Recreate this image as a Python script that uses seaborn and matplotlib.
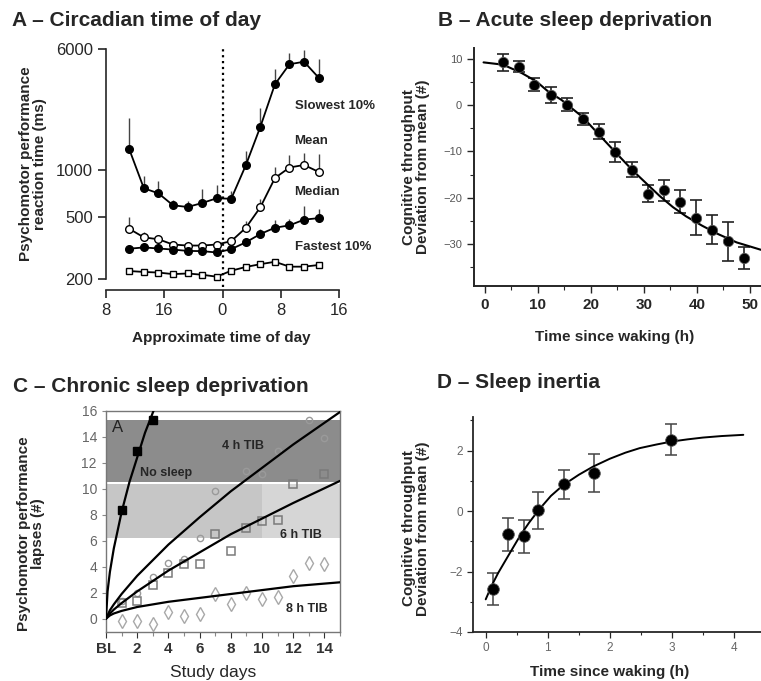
import matplotlib
matplotlib.use('Agg')
import matplotlib.pyplot as plt
import seaborn as sns
import pandas as pd
from matplotlib.ticker import MultipleLocator, NullLocator, FixedLocator

# Panel A - circadian time of day (hours relative to midnight)
a_hours = [-12.8, -10.8, -8.8, -6.8, -4.8, -2.8, -0.8, 1.2, 3.2, 5.2, 7.2, 9.2, 11.2, 13.2]
a_slowest = [1360, 765, 710, 595, 580, 615, 660, 655, 1075, 1900, 3560, 4790, 4970, 3930]
a_slowest_err = [800, 155, 145, 45, 55, 140, 140, 75, 250, 600, 900, 890, 930, 1220]
a_mean = [420, 370, 360, 333, 328, 328, 333, 350, 426, 578, 890, 1040, 1080, 975]
a_mean_err = [80, 30, 15, 5, 5, 5, 8, 20, 43, 76, 160, 212, 203, 290]
a_median = [313, 319, 314, 309, 303, 302, 296, 311, 344, 389, 427, 442, 481, 492]
a_median_err = [0, 0, 0, 0, 0, 0, 0, 0, 23, 32, 49, 44, 111, 67]
a_fastest = [225, 222, 220, 215, 217, 213, 207, 226, 239, 249, 258, 240, 240, 246]
a_xticks = [-16, -8, 0, 8, 16]
a_xticklabels = ['8', '16', '0', '8', '16']
a_yticks = [200, 500, 1000, 6000]

# Panel B - acute sleep deprivation
b_hours = [3.5, 6.4, 9.4, 12.6, 15.6, 18.6, 21.6, 24.6, 27.8, 30.8, 33.8, 36.8, 39.8, 42.8, 45.8, 48.9]
b_dev = [9.2, 8.3, 4.4, 2.2, 0.1, -3.0, -5.7, -10.1, -13.9, -19.1, -18.4, -20.8, -24.3, -26.9, -29.4, -33.0]
b_err = [1.8, 1.2, 1.4, 1.8, 1.4, 1.2, 1.7, 2.2, 1.7, 1.8, 2.3, 2.5, 3.8, 3.1, 4.2, 2.3]
b_fit_x = [-0.2, 3.5, 7.0, 9.75, 12.0, 14.5, 18.5, 21.5, 24.6, 28.0, 30.5, 33.0, 35.5, 38.0, 41.0, 44.0, 47.5, 52.1]
b_fit_y = [9.2, 8.7, 6.9, 5.1, 2.9, 1.1, -2.6, -6.3, -10.1, -14.2, -16.9, -19.6, -22.0, -24.0, -26.0, -27.8, -29.6, -31.2]

# Panel C - chronic sleep deprivation (lapses by study day)
c_nosleep_days = [1, 2, 3]
c_nosleep = [8.4, 12.9, 15.3]
c_4h_days = [1, 2, 3, 4, 5, 6, 7, 9, 10, 11, 13, 14]
c_4h = [1.4, 2.0, 3.2, 4.3, 4.6, 6.2, 9.8, 11.4, 11.1, 12.9, 15.3, 13.9]
c_6h_days = [1, 2, 3, 4, 5, 6, 7, 8, 9, 10, 11, 12, 14]
c_6h = [1.2, 1.4, 2.6, 3.5, 4.2, 4.2, 6.5, 5.2, 7.0, 7.5, 7.6, 10.4, 11.1]
c_8h_days = [1, 2, 3, 4, 5, 6, 7, 8, 9, 10, 11, 12, 13, 14]
c_8h = [-0.2, -0.2, -0.4, 0.5, 0.2, 0.4, 1.9, 1.1, 2.0, 1.5, 1.7, 3.3, 4.3, 4.2]
c_fit_nosleep_x = [0, 0.1, 0.25, 0.5, 1, 1.5, 2, 2.5, 3.05]
c_fit_nosleep_y = [0, 2.1, 3.6, 5.4, 8.2, 10.5, 12.4, 14.3, 16.0]
c_fit_x = [0, 0.25, 0.5, 1, 2, 4, 6, 8, 10, 12, 15]
c_fit_4h = [0, 0.65, 1.1, 1.9, 3.3, 5.7, 7.8, 9.8, 11.6, 13.4, 15.9]
c_fit_6h = [0, 0.4, 0.7, 1.2, 2.1, 3.7, 5.1, 6.5, 7.7, 8.9, 10.6]
c_fit_8h = [0, 0.25, 0.4, 0.6, 0.9, 1.3, 1.6, 1.9, 2.2, 2.5, 2.8]
c_xticks = [0, 2, 4, 6, 8, 10, 12, 14]
c_xticklabels = ['BL', '2', '4', '6', '8', '10', '12', '14']

# Panel D - sleep inertia
d_hours = [0.11, 0.36, 0.61, 0.85, 1.26, 1.74, 2.98]
d_dev = [-2.59, -0.77, -0.84, 0.02, 0.88, 1.25, 2.36]
d_err = [0.53, 0.54, 0.55, 0.61, 0.48, 0.62, 0.52]
d_fit_x = [0, 0.1, 0.2, 0.28, 0.4, 0.55, 0.7, 0.86, 1.05, 1.25, 1.5, 1.73, 2.0,
           2.25, 2.48, 2.75, 3.0, 3.25, 3.5, 3.8, 4.15]
d_fit_y = [-2.92, -2.45, -2.05, -1.77, -1.35, -0.83, -0.38, 0.05, 0.5, 0.86, 1.2, 1.47, 1.73,
           1.93, 2.08, 2.2, 2.3, 2.37, 2.43, 2.48, 2.52]

sns.set_style('ticks')
plt.rcParams['font.family'] = ['Liberation Sans', 'DejaVu Sans']
NARROW = ['Liberation Sans Narrow', 'Liberation Sans', 'DejaVu Sans']

W, H = 761, 681
fig = plt.figure(figsize=(W / 100, H / 100), dpi=100)


def box(left, top, right, bottom):
    return [left / W, 1 - bottom / H, (right - left) / W, (bottom - top) / H]


title_kw = dict(fontsize=15, fontweight='bold', va='center', ha='left')
fig.text(12 / W, 1 - 20 / H, 'A – Circadian time of day', **title_kw)
fig.text(438 / W, 1 - 20 / H, 'B – Acute sleep deprivation', **title_kw)
fig.text(13 / W, 1 - 387 / H, 'C – Chronic sleep deprivation', **title_kw)
fig.text(437 / W, 1 - 383 / H, 'D – Sleep inertia', **title_kw)

label_kw = dict(fontsize=11, fontweight='bold')

# ---------------- Panel A
axA = fig.add_axes(box(106, 49, 339, 279))
axA.set_yscale('log')
dfA = pd.DataFrame({'h': a_hours, 'slow': a_slowest, 'mean': a_mean,
                    'median': a_median, 'fast': a_fastest})
axA.axvline(0, ymin=-0.035, ymax=1, color='black', ls=':', lw=1.6, clip_on=False)
for col, err, face, mk in [('slow', a_slowest_err, 'black', 'o'),
                           ('mean', a_mean_err, 'white', 'o'),
                           ('median', a_median_err, 'black', 'o'),
                           ('fast', None, 'white', 's')]:
    if err is not None:
        axA.errorbar(dfA['h'], dfA[col], yerr=[[0] * len(err), err], fmt='none',
                     ecolor='#444444', elinewidth=1.0, capsize=0, zorder=2)
    sns.lineplot(data=dfA, x='h', y=col, ax=axA, color='black', lw=1.3,
                 marker=mk, markersize=5.5 if mk == 'o' else 5, markerfacecolor=face,
                 markeredgecolor='black', markeredgewidth=1.0, sort=False,
                 estimator=None, zorder=3, clip_on=False)
axA.set_xlim(-16, 16)
axA.set_ylim(200, 6000)
axA.yaxis.set_major_locator(FixedLocator(a_yticks))
axA.yaxis.set_minor_locator(NullLocator())
axA.set_yticklabels([str(v) for v in a_yticks])
axA.set_xticks(a_xticks)
axA.set_xticklabels(a_xticklabels)
axA.tick_params(labelsize=12, length=6, width=1.2, direction='out')
for s in ['top', 'right']:
    axA.spines[s].set_visible(False)
axA.spines['bottom'].set_position(('outward', 8))
axA.spines['left'].set_linewidth(1.2)
axA.spines['bottom'].set_linewidth(1.2)
axA.set_xlabel('Approximate time of day', **label_kw)
axA.xaxis.set_label_coords(0.494, -0.225)
axA.set_ylabel('Psychomotor performance\nreaction time (ms)', **label_kw, linespacing=1.05)
axA.yaxis.set_label_coords(-0.253, 0.5)
lab_kw = dict(fontsize=9.5, fontweight='bold', family=NARROW, ha='left', va='center')
axA.text(9.9, 2600, 'Slowest 10%', **lab_kw)
axA.text(9.9, 1530, 'Mean', **lab_kw)
axA.text(9.9, 724, 'Median', **lab_kw)
axA.text(9.9, 323, 'Fastest 10%', **lab_kw)

# ---------------- Panel B
axB = fig.add_axes(box(474, 48, 761, 286))
dfB = pd.DataFrame({'h': b_hours, 'dev': b_dev, 'err': b_err})
axB.errorbar(dfB['h'], dfB['dev'], yerr=dfB['err'], fmt='none', ecolor='#222222',
             elinewidth=1.2, capsize=4.5, capthick=1.2, zorder=2)
sns.lineplot(x=b_fit_x, y=b_fit_y, ax=axB, color='black', lw=1.5, sort=False,
             estimator=None, zorder=3)
sns.scatterplot(data=dfB, x='h', y='dev', ax=axB, color='black', s=55,
                edgecolor='#555555', linewidth=0.6, zorder=4)
axB.set_xlim(-2, 52.1)
axB.set_ylim(-39, 12.3)
axB.xaxis.set_major_locator(MultipleLocator(10))
axB.xaxis.set_minor_locator(MultipleLocator(5))
axB.yaxis.set_major_locator(MultipleLocator(10))
axB.yaxis.set_minor_locator(MultipleLocator(5))
axB.tick_params(axis='x', labelsize=11, length=5, width=1.0)
axB.tick_params(axis='y', labelsize=8, labelcolor='#555555', length=5, width=1.0)
axB.tick_params(which='minor', length=3, width=0.8)
for lbl in axB.get_xticklabels():
    lbl.set_fontweight('bold')
for s in ['top', 'right']:
    axB.spines[s].set_visible(False)
axB.spines['left'].set_linewidth(1.4)
axB.spines['bottom'].set_linewidth(1.4)
axB.set_xlabel('Time since waking (h)', **label_kw)
axB.xaxis.set_label_coords(0.491, -0.185)
axB.set_ylabel('Cognitive throughput\nDeviation from mean (#)', **label_kw, linespacing=1.05)
axB.yaxis.set_label_coords(-0.153, 0.5)

# ---------------- Panel C
axC = fig.add_axes(box(106, 410.7, 340, 631.7))
axC.axhspan(10.55, 15.3, color='#8c8c8c', lw=0, zorder=0)
axC.axhspan(6.2, 10.4, xmin=0, xmax=10 / 15, color='#c6c6c6', lw=0, zorder=0)
axC.axhspan(6.2, 10.4, xmin=10 / 15, xmax=1, color='#d6d6d6', lw=0, zorder=0)
sns.lineplot(x=c_fit_nosleep_x, y=c_fit_nosleep_y, ax=axC, color='black', lw=1.6,
             sort=False, estimator=None, zorder=3)
for fy in [c_fit_4h, c_fit_6h, c_fit_8h]:
    sns.lineplot(x=c_fit_x, y=fy, ax=axC, color='black', lw=1.6, sort=False,
                 estimator=None, zorder=3)
axC.plot(c_4h_days, c_4h, ls='none', marker='o', ms=4.5, mfc='none', mec='#9a9a9a', mew=1.0, zorder=2)
axC.plot(c_6h_days, c_6h, ls='none', marker='s', ms=6, mfc='none', mec='#7a7a7a', mew=1.1, zorder=2)
axC.plot(c_8h_days, c_8h, ls='none', marker='d', ms=7, mfc='none', mec='#a8a8a8', mew=1.0, zorder=2)
axC.plot(c_nosleep_days, c_nosleep, ls='none', marker='s', ms=5.5, color='black', zorder=4)
axC.set_xlim(0, 15)
axC.set_ylim(-1, 16)
axC.set_xticks(c_xticks)
axC.set_xticklabels(c_xticklabels)
axC.xaxis.set_minor_locator(MultipleLocator(1))
axC.yaxis.set_major_locator(MultipleLocator(2))
axC.tick_params(axis='x', labelsize=11, length=4, width=0.8, colors='#333333')
axC.tick_params(axis='y', labelsize=10, labelcolor='#666666', length=3, width=0.8, color='#888888')
axC.tick_params(which='minor', length=3, width=0.8, color='#888888')
for lbl in axC.get_xticklabels():
    lbl.set_fontweight('bold')
for s in axC.spines.values():
    s.set_color('#777777')
    s.set_linewidth(1.0)
axC.set_xlabel('Study days', fontsize=12.5)
axC.xaxis.set_label_coords(0.457, -0.15)
axC.set_ylabel('Psychomotor performance\nlapses (#)', **label_kw, linespacing=1.05)
axC.yaxis.set_label_coords(-0.26, 0.444)
axC.text(0.4, 14.7, 'A', fontsize=12, va='center', ha='left', color='#222222')
cl_kw = dict(fontsize=9, fontweight='bold', family=NARROW, ha='center', va='center')
axC.text(8.76, 13.3, '4 h TIB', **cl_kw)
axC.text(3.87, 11.2, 'No sleep', **cl_kw)
axC.text(12.5, 6.45, '6 h TIB', **cl_kw)
axC.text(12.9, 0.72, '8 h TIB', **cl_kw)

# ---------------- Panel D
axD = fig.add_axes(box(473.3, 417.3, 761, 632))
dfD = pd.DataFrame({'h': d_hours, 'dev': d_dev, 'err': d_err})
axD.errorbar(dfD['h'], dfD['dev'], yerr=dfD['err'], fmt='none', ecolor='#444444',
             elinewidth=1.1, capsize=4.5, capthick=1.1, zorder=2)
sns.lineplot(x=d_fit_x, y=d_fit_y, ax=axD, color='black', lw=1.4, sort=False,
             estimator=None, zorder=3)
sns.scatterplot(data=dfD, x='h', y='dev', ax=axD, color='black', s=70,
                edgecolor='#555555', linewidth=0.6, zorder=4)
axD.set_xlim(-0.2, 4.435)
axD.set_ylim(-4, 3.1)
axD.xaxis.set_major_locator(MultipleLocator(1))
axD.xaxis.set_minor_locator(MultipleLocator(0.5))
axD.yaxis.set_major_locator(MultipleLocator(2))
axD.yaxis.set_minor_locator(MultipleLocator(1))
axD.tick_params(labelsize=8.5, labelcolor='#666666', length=4, width=0.9)
axD.tick_params(which='minor', length=2.5, width=0.8)
for s in ['top', 'right']:
    axD.spines[s].set_visible(False)
axD.spines['left'].set_linewidth(1.3)
axD.spines['bottom'].set_linewidth(1.3)
axD.set_xlabel('Time since waking (h)', **label_kw)
axD.xaxis.set_label_coords(0.475, -0.154)
axD.set_ylabel('Cognitive throughput\nDeviation from mean (#)', **label_kw, linespacing=1.05)
axD.yaxis.set_label_coords(-0.15, 0.482)

fig.savefig('out.png', dpi=100)
